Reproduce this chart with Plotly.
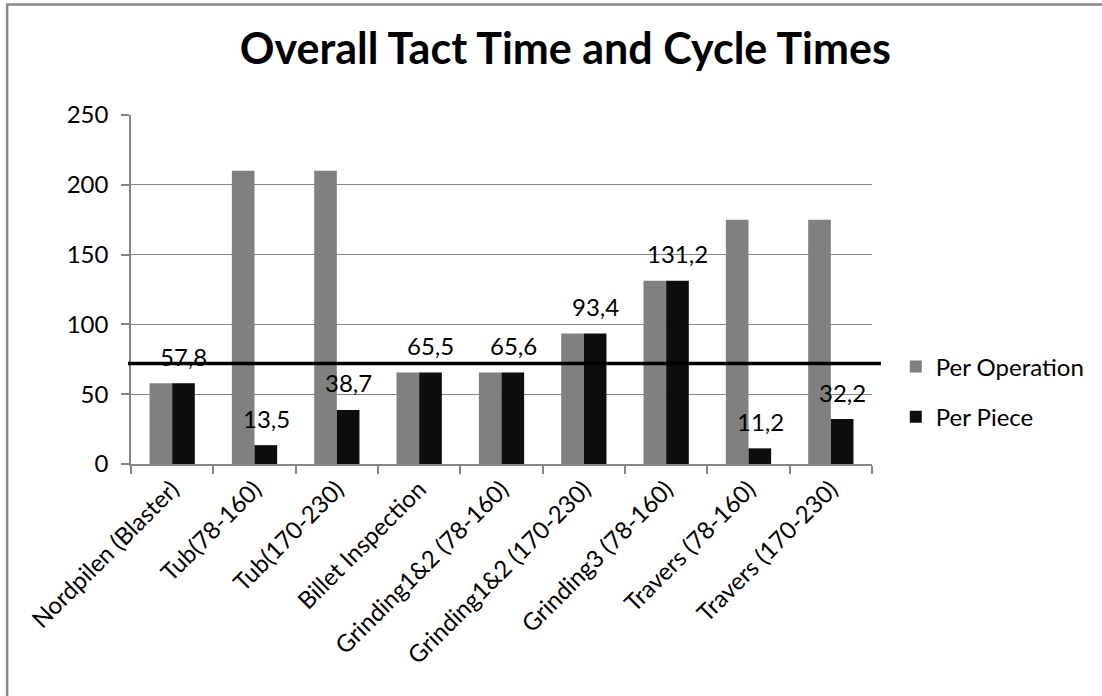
import plotly.graph_objects as go

categories = [
    "Nordpilen (Blaster)",
    "Tub(78-160)",
    "Tub(170-230)",
    "Billet Inspection",
    "Grinding1&2 (78-160)",
    "Grinding1&2 (170-230)",
    "Grinding3 (78-160)",
    "Travers (78-160)",
    "Travers (170-230)",
]
per_operation = [57.8, 210, 210, 65.5, 65.6, 93.4, 131.2, 175, 175]
per_piece = [57.8, 13.5, 38.7, 65.5, 65.6, 93.4, 131.2, 11.2, 32.2]
tact_time = 72
y_ticks = [0, 50, 100, 150, 200, 250]

FONT = "Lato, 'Open Sans', sans-serif"
GREY = "#808080"
BLACK = "#0d0d0d"
AXIS = "#868686"
FS = 24

# plot area in pixels
W, H = 1102, 696
L, R, T, B = 131, 879, 115, 464

fig = go.Figure()
fig.add_trace(go.Bar(
    x=categories, y=per_operation, name="Per Operation",
    marker=dict(color=GREY, line=dict(width=0)), legendgroup="a",
))
fig.add_trace(go.Bar(
    x=categories, y=per_piece, name="Per Piece",
    marker=dict(color=BLACK, line=dict(width=0)), legendgroup="b",
))

# value labels above the Per Piece bars
for cat, v in zip(categories, per_piece):
    fig.add_annotation(
        x=cat, y=v, text=f"{v:.1f}".replace(".", ","),
        showarrow=False, xshift=11.5, yshift=27,
        font=dict(family=FONT, size=FS, color="#000000"),
    )

# tact time reference line
fig.add_shape(
    type="line", xref="paper", yref="y",
    x0=(128 - L) / (R - L), x1=(888 - L) / (R - L), y0=tact_time, y1=tact_time,
    line=dict(color="#000000", width=3.5),
)

# outer chart frame: left and top edges
pw, ph = R - L, B - T
fx0 = (6 - L) / pw
fx1 = (W + 80 - L) / pw
fy0 = (B - (H + 80)) / ph
fy1 = (B - 4.5) / ph
fig.add_shape(
    type="path", xref="paper", yref="paper",
    path=f"M {fx0},{fy0} L {fx0},{fy1} L {fx1},{fy1}",
    line=dict(color="#8a8a8a", width=2.5), layer="below",
)

fig.update_layout(
    width=W, height=H,
    margin=dict(l=L, r=W - R, t=T, b=H - B, pad=0),
    paper_bgcolor="white", plot_bgcolor="white",
    barmode="group", bargap=0.45, bargroupgap=0,
    font=dict(family=FONT, size=FS, color="#000000"),
    title=dict(
        text="<b>Overall Tact Time and Cycle Times</b>",
        x=0.513, xanchor="center", y=1 - 49 / H, yanchor="middle",
        font=dict(family=FONT, size=43, color="#000000"),
    ),
    legend=dict(
        x=(903 - L) / pw, xanchor="left", y=(B - 392) / ph, yanchor="middle",
        font=dict(family=FONT, size=FS), tracegroupgap=16,
        bgcolor="rgba(0,0,0,0)",
    ),
    xaxis=dict(
        type="category", tickangle=-45, tickson="boundaries",
        ticks="outside", ticklen=8, tickcolor=AXIS, tickwidth=1.5,
        showline=True, linecolor=AXIS, linewidth=1.5,
        showgrid=False, tickfont=dict(family=FONT, size=FS),
    ),
    yaxis=dict(
        range=[0, 250], tickvals=y_ticks, ticks="outside", ticklen=8,
        tickcolor=AXIS, tickwidth=1.5, showline=True, linecolor=AXIS,
        linewidth=1.5, showgrid=True, gridcolor=AXIS, gridwidth=1.3,
        zeroline=False, tickfont=dict(family=FONT, size=FS),
        ticklabelstandoff=8,
    ),
)

fig.write_html("out.html")
